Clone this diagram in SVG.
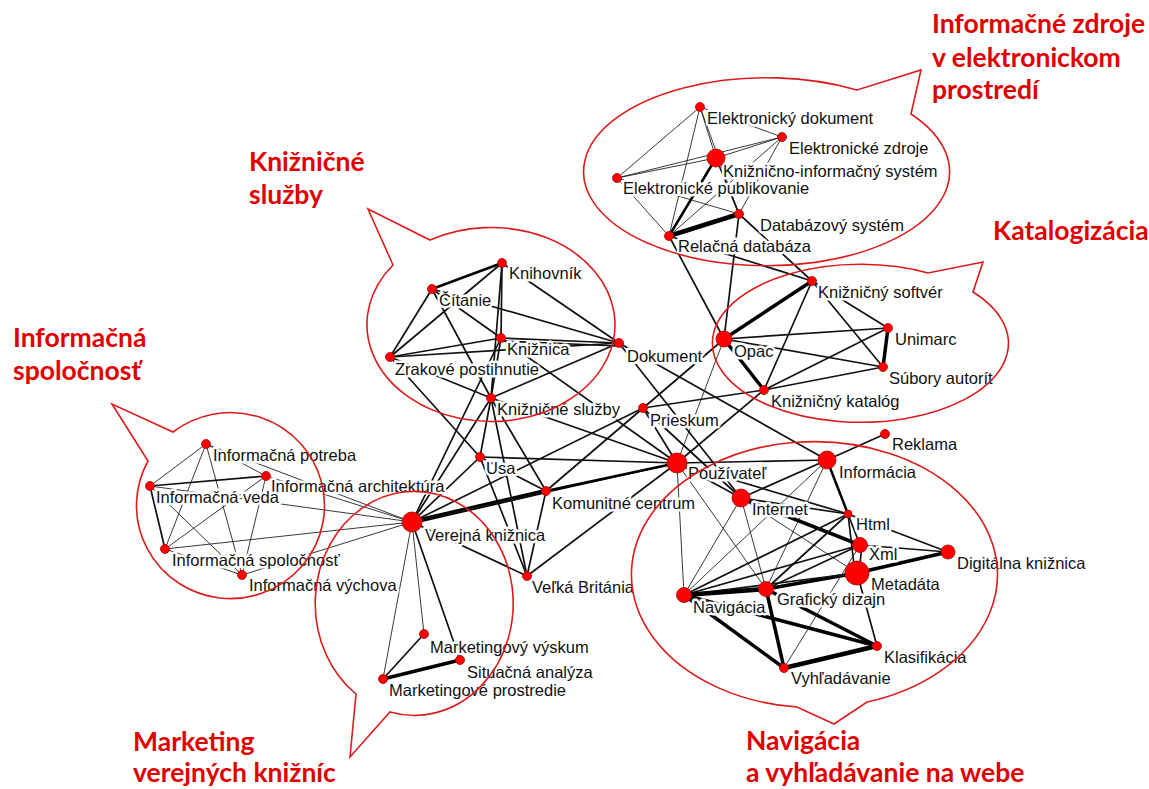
<svg xmlns="http://www.w3.org/2000/svg" width="1149" height="789" viewBox="0 0 1149 789">
<style>
.e1{stroke:#222;stroke-width:0.9}
.e2{stroke:#111;stroke-width:1.7}
.e3{stroke:#000;stroke-width:2.5}
.e4{stroke:#000;stroke-width:3.5}
.e5{stroke:#000;stroke-width:4.6}
line{stroke-linecap:round}
.lbl{font-family:"Liberation Sans",Arial,sans-serif;font-size:16.5px;fill:#111;paint-order:stroke;stroke:#fff;stroke-width:5px;stroke-linejoin:round}
.nd{fill:#f00;stroke:#a00;stroke-width:0.8}
.bub{fill:none;stroke:#dc1c1c;stroke-width:1.6;stroke-linejoin:miter}
.ttl{font-family:Lato,"Noto Sans",sans-serif;font-weight:700;font-size:26.5px;fill:#e00000}
</style>
<rect width="1149" height="789" fill="#fff"/>
<g id="connectors">
<line class="e1" x1="700" y1="107" x2="617" y2="178"/>
<line class="e1" x1="700" y1="107" x2="669" y2="236"/>
<line class="e1" x1="700" y1="107" x2="716" y2="158"/>
<line class="e1" x1="700" y1="107" x2="739" y2="214"/>
<line class="e1" x1="700" y1="107" x2="782" y2="137"/>
<line class="e1" x1="617" y1="178" x2="782" y2="137"/>
<line class="e1" x1="617" y1="178" x2="716" y2="158"/>
<line class="e1" x1="782" y1="137" x2="716" y2="158"/>
<line class="e1" x1="782" y1="137" x2="669" y2="236"/>
<line class="e1" x1="782" y1="137" x2="739" y2="214"/>
<line class="e3" x1="716" y1="158" x2="669" y2="236"/>
<line class="e2" x1="716" y1="158" x2="739" y2="214"/>
<line class="e1" x1="617" y1="178" x2="669" y2="236"/>
<line class="e1" x1="617" y1="178" x2="739" y2="214"/>
<line class="e5" x1="669" y1="236" x2="739" y2="214"/>
<line class="e2" x1="669" y1="236" x2="724" y2="339"/>
<line class="e2" x1="669" y1="236" x2="812" y2="281"/>
<line class="e2" x1="739" y1="214" x2="724" y2="339"/>
<line class="e2" x1="739" y1="214" x2="812" y2="281"/>
<line class="e4" x1="724" y1="339" x2="812" y2="281"/>
<line class="e2" x1="724" y1="339" x2="888" y2="328"/>
<line class="e2" x1="724" y1="339" x2="883" y2="367"/>
<line class="e4" x1="724" y1="339" x2="764" y2="390"/>
<line class="e2" x1="812" y1="281" x2="888" y2="328"/>
<line class="e2" x1="812" y1="281" x2="883" y2="367"/>
<line class="e2" x1="812" y1="281" x2="764" y2="390"/>
<line class="e4" x1="888" y1="328" x2="883" y2="367"/>
<line class="e2" x1="888" y1="328" x2="764" y2="390"/>
<line class="e2" x1="883" y1="367" x2="764" y2="390"/>
<line class="e2" x1="764" y1="390" x2="643" y2="408"/>
<line class="e2" x1="764" y1="390" x2="677" y2="463"/>
<line class="e1" x1="724" y1="339" x2="677" y2="463"/>
<line class="e3" x1="432" y1="289" x2="502" y2="263"/>
<line class="e2" x1="502" y1="263" x2="390" y2="357"/>
<line class="e2" x1="502" y1="263" x2="501" y2="338"/>
<line class="e2" x1="502" y1="263" x2="491" y2="398"/>
<line class="e2" x1="502" y1="263" x2="619" y2="343"/>
<line class="e2" x1="432" y1="289" x2="619" y2="343"/>
<line class="e2" x1="432" y1="289" x2="501" y2="338"/>
<line class="e2" x1="432" y1="289" x2="390" y2="357"/>
<line class="e2" x1="432" y1="289" x2="491" y2="398"/>
<line class="e2" x1="390" y1="357" x2="501" y2="338"/>
<line class="e2" x1="390" y1="357" x2="619" y2="343"/>
<line class="e2" x1="501" y1="338" x2="619" y2="343"/>
<line class="e2" x1="501" y1="341" x2="619" y2="346"/>
<line class="e2" x1="491" y1="398" x2="619" y2="343"/>
<line class="e2" x1="390" y1="357" x2="491" y2="398"/>
<line class="e2" x1="501" y1="338" x2="491" y2="398"/>
<line class="e2" x1="501" y1="338" x2="677" y2="463"/>
<line class="e2" x1="491" y1="398" x2="677" y2="463"/>
<line class="e2" x1="390" y1="357" x2="480" y2="457"/>
<line class="e2" x1="491" y1="398" x2="480" y2="457"/>
<line class="e2" x1="491" y1="398" x2="412" y2="522"/>
<line class="e2" x1="491" y1="398" x2="527" y2="576"/>
<line class="e2" x1="491" y1="398" x2="546" y2="491"/>
<line class="e2" x1="619" y1="343" x2="741" y2="498"/>
<line class="e2" x1="619" y1="343" x2="827" y2="460"/>
<line class="e2" x1="546" y1="491" x2="724" y2="339"/>
<line class="e2" x1="412" y1="522" x2="643" y2="408"/>
<line class="e2" x1="480" y1="457" x2="677" y2="463"/>
<line class="e2" x1="480" y1="457" x2="546" y2="491"/>
<line class="e2" x1="480" y1="457" x2="527" y2="576"/>
<line class="e2" x1="412" y1="522" x2="480" y2="457"/>
<line class="e2" x1="412" y1="522" x2="501" y2="338"/>
<line class="e5" x1="412" y1="522" x2="546" y2="491"/>
<line class="e2" x1="412" y1="522" x2="677" y2="463"/>
<line class="e3" x1="546" y1="491" x2="677" y2="463"/>
<line class="e2" x1="546" y1="491" x2="527" y2="576"/>
<line class="e2" x1="412" y1="522" x2="527" y2="576"/>
<line class="e2" x1="527" y1="576" x2="677" y2="463"/>
<line class="e2" x1="643" y1="408" x2="677" y2="463"/>
<line class="e2" x1="643" y1="408" x2="741" y2="498"/>
<line class="e1" x1="206" y1="444" x2="150" y2="486"/>
<line class="e1" x1="206" y1="444" x2="266" y2="476"/>
<line class="e1" x1="206" y1="444" x2="165" y2="549"/>
<line class="e1" x1="206" y1="444" x2="242" y2="575"/>
<line class="e2" x1="150" y1="486" x2="266" y2="476"/>
<line class="e2" x1="150" y1="486" x2="165" y2="549"/>
<line class="e1" x1="266" y1="476" x2="165" y2="549"/>
<line class="e1" x1="150" y1="486" x2="242" y2="575"/>
<line class="e1" x1="266" y1="476" x2="242" y2="575"/>
<line class="e1" x1="165" y1="549" x2="242" y2="575"/>
<line class="e1" x1="412" y1="522" x2="242" y2="575"/>
<line class="e1" x1="412" y1="522" x2="165" y2="549"/>
<line class="e1" x1="412" y1="522" x2="150" y2="486"/>
<line class="e1" x1="412" y1="522" x2="266" y2="476"/>
<line class="e1" x1="412" y1="522" x2="206" y2="444"/>
<line class="e1" x1="412" y1="522" x2="383" y2="679"/>
<line class="e1" x1="412" y1="522" x2="424" y2="634"/>
<line class="e2" x1="412" y1="522" x2="460" y2="660"/>
<line class="e2" x1="424" y1="634" x2="383" y2="679"/>
<line class="e4" x1="383" y1="679" x2="460" y2="660"/>
<line class="e2" x1="677" y1="463" x2="827" y2="460"/>
<line class="e2" x1="677" y1="463" x2="741" y2="498"/>
<line class="e2" x1="677" y1="463" x2="848" y2="514"/>
<line class="e1" x1="677" y1="463" x2="684" y2="595"/>
<line class="e1" x1="677" y1="463" x2="766" y2="589"/>
<line class="e2" x1="827" y1="460" x2="741" y2="498"/>
<line class="e1" x1="827" y1="460" x2="684" y2="595"/>
<line class="e1" x1="827" y1="460" x2="766" y2="589"/>
<line class="e3" x1="827" y1="460" x2="848" y2="514"/>
<line class="e2" x1="827" y1="460" x2="885" y2="434"/>
<line class="e1" x1="741" y1="498" x2="684" y2="595"/>
<line class="e1" x1="741" y1="498" x2="766" y2="589"/>
<line class="e4" x1="741" y1="498" x2="860" y2="545"/>
<line class="e1" x1="741" y1="498" x2="857" y2="573"/>
<line class="e2" x1="741" y1="498" x2="848" y2="514"/>
<line class="e2" x1="848" y1="514" x2="948" y2="552"/>
<line class="e2" x1="848" y1="514" x2="684" y2="595"/>
<line class="e2" x1="848" y1="514" x2="766" y2="589"/>
<line class="e2" x1="848" y1="514" x2="860" y2="545"/>
<line class="e2" x1="848" y1="514" x2="855" y2="573"/>
<line class="e2" x1="860" y1="545" x2="684" y2="595"/>
<line class="e2" x1="860" y1="545" x2="766" y2="589"/>
<line class="e2" x1="860" y1="545" x2="948" y2="552"/>
<line class="e4" x1="857" y1="573" x2="948" y2="552"/>
<line class="e4" x1="857" y1="573" x2="766" y2="589"/>
<line class="e2" x1="857" y1="573" x2="684" y2="595"/>
<line class="e2" x1="862" y1="545" x2="859" y2="573"/>
<line class="e5" x1="684" y1="595" x2="766" y2="589"/>
<line class="e4" x1="684" y1="595" x2="784" y2="668"/>
<line class="e4" x1="684" y1="595" x2="877" y2="646"/>
<line class="e4" x1="766" y1="589" x2="784" y2="668"/>
<line class="e4" x1="766" y1="589" x2="877" y2="646"/>
<line class="e5" x1="784" y1="668" x2="877" y2="646"/>
<line class="e2" x1="857" y1="573" x2="877" y2="646"/>
<line class="e1" x1="784" y1="668" x2="860" y2="545"/>
</g>
<g id="n-elektronicky-dokument"><text class="lbl" x="707" y="124">Elektronický dokument</text><circle class="nd" cx="700" cy="107" r="4.5"/></g>
<g id="n-elektronicke-zdroje"><text class="lbl" x="789" y="154">Elektronické zdroje</text><circle class="nd" cx="782" cy="137" r="4.5"/></g>
<g id="n-kis"><text class="lbl" x="723" y="177">Knižnično-informačný systém</text><circle class="nd" cx="716" cy="158" r="9"/></g>
<g id="n-elektronicke-publikovanie"><text class="lbl" x="623" y="194">Elektronické publikovanie</text><circle class="nd" cx="617" cy="178" r="4.5"/></g>
<g id="n-databazovy-system"><text class="lbl" x="760" y="231">Databázový systém</text><circle class="nd" cx="739" cy="214" r="4.5"/></g>
<g id="n-relacna-databaza"><text class="lbl" x="678" y="252">Relačná databáza</text><circle class="nd" cx="669" cy="236" r="4.5"/></g>
<g id="n-kniznicny-softver"><text class="lbl" x="818" y="298">Knižničný softvér</text><circle class="nd" cx="812" cy="281" r="4.5"/></g>
<g id="n-opac"><text class="lbl" x="734" y="357">Opac</text><circle class="nd" cx="724" cy="339" r="8"/></g>
<g id="n-unimarc"><text class="lbl" x="895" y="345">Unimarc</text><circle class="nd" cx="888" cy="328" r="4.5"/></g>
<g id="n-subory-autorit"><text class="lbl" x="889" y="384">Súbory autorít</text><circle class="nd" cx="883" cy="367" r="4.5"/></g>
<g id="n-kniznicny-katalog"><text class="lbl" x="771" y="407">Knižničný katalóg</text><circle class="nd" cx="764" cy="390" r="4.5"/></g>
<g id="n-knihovnik"><text class="lbl" x="509" y="279">Knihovník</text><circle class="nd" cx="502" cy="263" r="4.5"/></g>
<g id="n-citanie"><text class="lbl" x="439" y="306">Čítanie</text><circle class="nd" cx="432" cy="289" r="4.5"/></g>
<g id="n-kniznica"><text class="lbl" x="507" y="355">Knižnica</text><circle class="nd" cx="501" cy="338" r="4.5"/></g>
<g id="n-dokument"><text class="lbl" x="627" y="362">Dokument</text><circle class="nd" cx="619" cy="343" r="4.5"/></g>
<g id="n-zrakove-postihnutie"><text class="lbl" x="395" y="375">Zrakové postihnutie</text><circle class="nd" cx="390" cy="357" r="4.5"/></g>
<g id="n-kniznicne-sluzby"><text class="lbl" x="497" y="415">Knižničné služby</text><circle class="nd" cx="491" cy="398" r="4.5"/></g>
<g id="n-prieskum"><text class="lbl" x="650" y="426">Prieskum</text><circle class="nd" cx="643" cy="408" r="4.5"/></g>
<g id="n-usa"><text class="lbl" x="486" y="474">Usa</text><circle class="nd" cx="480" cy="457" r="4.5"/></g>
<g id="n-komunitne-centrum"><text class="lbl" x="552" y="509">Komunitné centrum</text><circle class="nd" cx="546" cy="491" r="4.5"/></g>
<g id="n-verejna-kniznica"><text class="lbl" x="425" y="541">Verejná knižnica</text><circle class="nd" cx="412" cy="522" r="10"/></g>
<g id="n-velka-britania"><text class="lbl" x="532" y="593">Veľká Británia</text><circle class="nd" cx="527" cy="576" r="4.5"/></g>
<g id="n-marketingovy-vyskum"><text class="lbl" x="430" y="653">Marketingový výskum</text><circle class="nd" cx="424" cy="634" r="4.5"/></g>
<g id="n-situacna-analyza"><text class="lbl" x="467" y="678">Situačná analýza</text><circle class="nd" cx="460" cy="660" r="4.5"/></g>
<g id="n-marketingove-prostredie"><text class="lbl" x="389" y="696">Marketingové prostredie</text><circle class="nd" cx="383" cy="679" r="4.5"/></g>
<g id="n-informacna-potreba"><text class="lbl" x="213" y="461">Informačná potreba</text><circle class="nd" cx="206" cy="444" r="4.5"/></g>
<g id="n-informacna-architektura"><text class="lbl" x="271" y="492">Informačná architektúra</text><circle class="nd" cx="266" cy="476" r="4.5"/></g>
<g id="n-informacna-veda"><text class="lbl" x="156" y="503">Informačná veda</text><circle class="nd" cx="150" cy="486" r="4.5"/></g>
<g id="n-informacna-spolocnost"><text class="lbl" x="172" y="566">Informačná spoločnosť</text><circle class="nd" cx="165" cy="549" r="4.5"/></g>
<g id="n-informacna-vychova"><text class="lbl" x="249" y="591">Informačná výchova</text><circle class="nd" cx="242" cy="575" r="4.5"/></g>
<g id="n-reklama"><text class="lbl" x="892" y="450">Reklama</text><circle class="nd" cx="885" cy="434" r="4.5"/></g>
<g id="n-pouzivatel"><text class="lbl" x="688" y="479">Používateľ</text><circle class="nd" cx="677" cy="463" r="10"/></g>
<g id="n-informacia"><text class="lbl" x="839" y="478">Informácia</text><circle class="nd" cx="827" cy="460" r="9"/></g>
<g id="n-internet"><text class="lbl" x="752" y="515">Internet</text><circle class="nd" cx="741" cy="498" r="9"/></g>
<g id="n-html"><text class="lbl" x="856" y="530">Html</text><circle class="nd" cx="848" cy="514" r="4"/></g>
<g id="n-xml"><text class="lbl" x="869" y="560">Xml</text><circle class="nd" cx="860" cy="545" r="7.5"/></g>
<g id="n-digitalna-kniznica"><text class="lbl" x="957" y="569">Digitálna knižnica</text><circle class="nd" cx="948" cy="552" r="7"/></g>
<g id="n-metadata"><text class="lbl" x="871" y="590">Metadáta</text><circle class="nd" cx="857" cy="573" r="12"/></g>
<g id="n-navigacia"><text class="lbl" x="693" y="613">Navigácia</text><circle class="nd" cx="684" cy="595" r="7.5"/></g>
<g id="n-graficky-dizajn"><text class="lbl" x="777" y="605">Grafický dizajn</text><circle class="nd" cx="766" cy="589" r="7.5"/></g>
<g id="n-klasifikacia"><text class="lbl" x="884" y="663">Klasifikácia</text><circle class="nd" cx="877" cy="646" r="4.5"/></g>
<g id="n-vyhladavanie"><text class="lbl" x="791" y="684">Vyhľadávanie</text><circle class="nd" cx="784" cy="668" r="4.5"/></g>
<g id="bubbles">
<path class="bub" d="M 911,114 A 183 94 0 1 1 857,90 L 921,70 Z"/>
<path class="bub" d="M 973,292 A 148 79 0 1 1 928,273 L 983,262 Z"/>
<path class="bub" d="M 430,240 A 124 97 0 1 1 393,265 L 368,209 Z"/>
<path class="bub" d="M 173,432 A 94 93 0 1 1 148,461 L 112,404 Z"/>
<path class="bub" d="M 356,694 A 99 112 0 1 1 390,712 L 350,757 Z"/>
<path class="bub" d="M 797,707 A 183 133 0 1 1 867,702 L 834,724 Z"/>
</g>
<g id="titles">
<text class="ttl" x="932" y="33">Informačné zdroje</text>
<text class="ttl" x="932" y="67">v elektronickom</text>
<text class="ttl" x="932" y="99">prostredí</text>
<text class="ttl" x="993" y="240">Katalogizácia</text>
<text class="ttl" x="249" y="171">Knižničné</text>
<text class="ttl" x="249" y="204">služby</text>
<text class="ttl" x="13" y="347">Informačná</text>
<text class="ttl" x="13" y="380">spoločnosť</text>
<text class="ttl" x="133" y="751">Marketing</text>
<text class="ttl" x="133" y="782">verejných knižníc</text>
<text class="ttl" x="746" y="750">Navigácia</text>
<text class="ttl" x="746" y="782">a vyhľadávanie na webe</text>
</g>
</svg>
